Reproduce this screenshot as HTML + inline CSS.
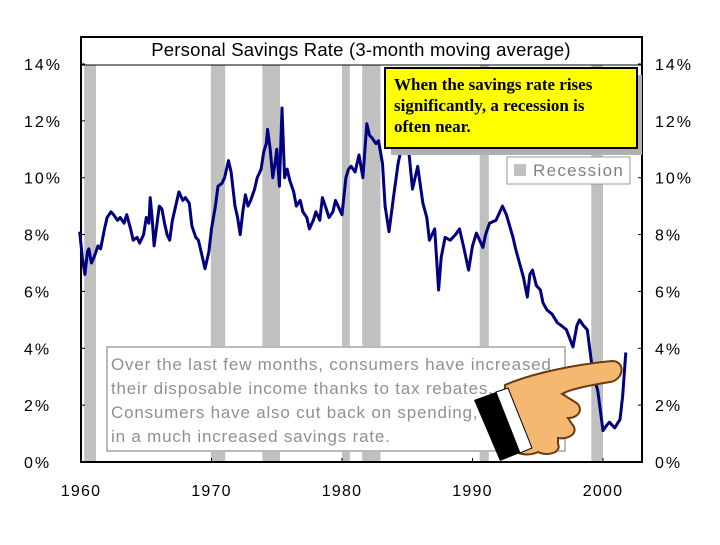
<!DOCTYPE html>
<html><head><meta charset="utf-8"><style>
body{margin:0;background:#fff;width:720px;height:540px;overflow:hidden}
svg text{font-family:"Liberation Sans",sans-serif}
</style></head><body>
<svg id="c" width="720" height="540" xmlns="http://www.w3.org/2000/svg"></svg>
<script>
const years=[1959.9,1960.1,1960.3,1960.5,1960.6,1960.8,1961,1961.3,1961.5,1961.8,1962,1962.3,1962.5,1962.8,1963,1963.3,1963.5,1963.8,1964,1964.3,1964.5,1964.8,1965,1965.2,1965.3,1965.45,1965.6,1965.8,1966,1966.2,1966.4,1966.6,1966.8,1967,1967.2,1967.5,1967.8,1968,1968.3,1968.5,1968.8,1969,1969.3,1969.5,1969.8,1970,1970.3,1970.5,1970.8,1971,1971.3,1971.5,1971.8,1972,1972.2,1972.4,1972.6,1972.8,1973,1973.3,1973.5,1973.8,1974,1974.2,1974.3,1974.5,1974.7,1974.9,1975,1975.2,1975.4,1975.6,1975.8,1976,1976.3,1976.5,1976.8,1977,1977.3,1977.5,1977.8,1978,1978.3,1978.5,1978.8,1979,1979.3,1979.5,1979.8,1980,1980.3,1980.5,1980.7,1981,1981.3,1981.6,1981.9,1982.1,1982.3,1982.6,1982.8,1983.1,1983.3,1983.6,1984,1984.3,1984.8,1985.1,1985.4,1985.8,1986.2,1986.5,1986.7,1987.1,1987.4,1987.6,1987.9,1988.3,1988.7,1989,1989.3,1989.7,1990,1990.3,1990.8,1991,1991.3,1991.8,1992.3,1992.6,1993.1,1993.3,1993.6,1993.9,1994.2,1994.4,1994.6,1994.9,1995.2,1995.4,1995.7,1996.1,1996.5,1996.8,1997.2,1997.4,1997.7,1998,1998.2,1998.5,1998.8,1999.2,1999.6,2000,2000.3,2000.5,2000.9,2001.3,2001.5,2001.75];
const rates=[8.1,7.2,6.6,7.4,7.5,7.0,7.2,7.6,7.5,8.2,8.6,8.8,8.7,8.5,8.6,8.4,8.7,8.2,7.8,7.9,7.7,8.0,8.6,8.4,9.3,8.6,7.6,8.3,9.0,8.9,8.4,8.0,7.8,8.5,8.9,9.5,9.2,9.3,9.1,8.3,7.9,7.8,7.2,6.8,7.4,8.2,9.0,9.7,9.8,10.0,10.6,10.2,9.0,8.6,8.0,8.8,9.4,9.0,9.2,9.6,10.0,10.3,10.9,11.2,11.7,11.0,10.0,10.6,11.0,9.7,12.45,10.0,10.3,9.9,9.5,9.0,9.2,8.8,8.6,8.2,8.5,8.8,8.5,9.3,8.9,8.6,8.8,9.2,8.9,8.7,10.0,10.3,10.4,10.2,10.8,10.0,11.9,11.5,11.4,11.2,11.3,10.5,9.0,8.1,9.5,10.5,11.6,11.0,9.6,10.4,9.1,8.6,7.8,8.2,6.05,7.2,7.9,7.8,8.0,8.2,7.6,6.75,7.6,8.05,7.55,8.0,8.4,8.5,9.0,8.7,7.9,7.5,7.0,6.5,5.8,6.6,6.75,6.2,6.05,5.6,5.35,5.2,4.9,4.8,4.65,4.4,4.05,4.8,5.0,4.8,4.65,3.2,2.5,1.1,1.3,1.4,1.2,1.5,2.3,3.85];
const recStart=[1960.25,1969.95,1973.9,1980.0,1981.55,1990.55,1999.1];
const recEnd=[1961.15,1971.05,1975.25,1980.6,1982.95,1991.25,2000.0];
const yTicks=[0,2,4,6,8,10,12,14];
const xTicks=[1960,1970,1980,1990,2000];
const NS="http://www.w3.org/2000/svg",svg=document.getElementById('c');
const X=y=>81+13.05*(y-1960), Y=v=>462-v*28.43;
function el(t,a,p){const e=document.createElementNS(NS,t);for(const k in a)e.setAttribute(k,a[k]);(p||svg).appendChild(e);return e;}
let r;
r=el('rect',{x:81,y:37,width:561,height:425,fill:'#fff'});
for(let i=0;i<recStart.length;i++){
 r=el('rect',{x:X(recStart[i]),y:65,width:X(recEnd[i])-X(recStart[i]),height:397,fill:'#c0c0c0'});
 
 
}
r=el('rect',{x:81,y:37,width:561,height:425,fill:'none',stroke:'#000','stroke-width':2});

el('line',{x1:81,y1:65,x2:642,y2:65,stroke:'#000','stroke-width':1});
r=el('text',{x:361,y:56,'font-size':18.5,'text-anchor':'middle',fill:'#000','letter-spacing':0.2});r.textContent='Personal Savings Rate (3-month moving average)';

yTicks.forEach(v=>{
 let t=el('text',{x:24,y:Y(v)+6,'font-size':16,fill:'#000','letter-spacing':2});t.textContent=v+'%';
 
 t=el('text',{x:655,y:Y(v)+6,'font-size':16,fill:'#000','letter-spacing':2});t.textContent=v+'%';
 
 el('line',{x1:81,y1:Y(v),x2:85,y2:Y(v),stroke:'#000'});
 el('line',{x1:638,y1:Y(v),x2:642,y2:Y(v),stroke:'#000'});
});
xTicks.forEach(v=>{
 let t=el('text',{x:X(v),y:496,'font-size':16,'text-anchor':'middle',fill:'#000','letter-spacing':1.2});t.textContent=v;
 
 el('line',{x1:X(v),y1:458,x2:X(v),y2:462,stroke:'#000'});
});
let d=years.map((y,i)=>(i?'L':'M')+X(y).toFixed(1)+','+Y(rates[i]).toFixed(1)).join('');
r=el('path',{d:d,fill:'none',stroke:'#000080','stroke-width':3,'stroke-linejoin':'round'});

// legend
let g=el('g',{});
el('rect',{x:507,y:157,width:123,height:27,fill:'#fff',stroke:'#999'},g);
el('rect',{x:514,y:164,width:12,height:12,fill:'#c0c0c0'},g);
r=el('text',{x:533,y:176,'font-size':17,fill:'#808080','letter-spacing':1.3},g);r.textContent='Recession';
// yellow callout
g=el('g',{});
el('rect',{x:391,y:75,width:251,height:80,fill:'#b0b0b0'},g);
el('rect',{x:385,y:68,width:252,height:80,fill:'#ffff00',stroke:'#000','stroke-width':2},g);
['When the savings rate rises','significantly, a recession is','often near.'].forEach((s,i)=>{
 let t=el('text',{x:394,y:90+i*21,'font-size':17,'font-weight':'bold',fill:'#000'},g);
 t.setAttribute('style','font-family:"Liberation Serif",serif');t.textContent=s;});
// gray note
g=el('g',{});
el('rect',{x:107,y:347,width:458,height:104,fill:'#fff',stroke:'#bbb','stroke-width':2},g);
['Over the last few months, consumers have increased','their disposable income thanks to tax rebates.','Consumers have also cut back on spending, resulting','in a much increased savings rate.'].forEach((s,i)=>{
 let t=el('text',{x:111,y:370+i*24,'font-size':17,fill:'#909090','letter-spacing':0.8},g);t.textContent=s;});
// hand
g=el('g',{});
el('path',{d:'M505,385 C535,372 580,364 612,361 C626,361 624,380 610,382 C585,386 568,390 562,394 L575,402 C584,407 580,418 568,418 L572,424 C580,433 568,440 558,438 L558,444 C562,452 548,457 538,452 C525,458 512,452 505,444 Z',fill:'#f4b870',stroke:'#6b3a10','stroke-width':2},g);
el('polygon',{points:'474,400 496,392 520,453 500,461',fill:'#000'},g);
el('polygon',{points:'496,392 508,388 532,448 520,453',fill:'#fff',stroke:'#000'},g);
</script>
</body></html>
